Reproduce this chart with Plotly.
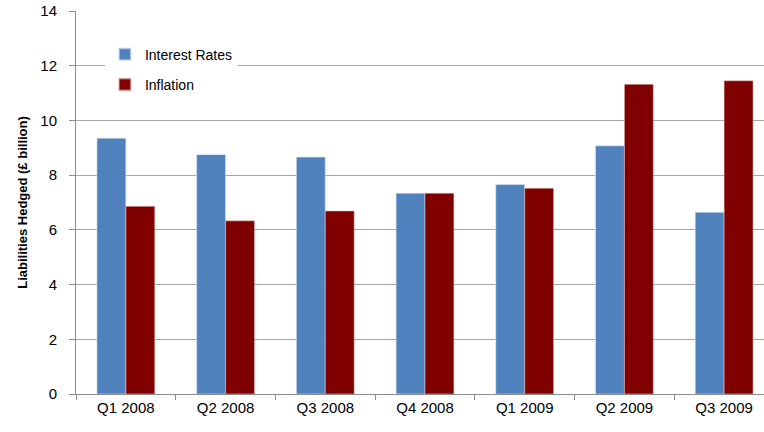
import plotly.graph_objects as go

categories = ["Q1 2008", "Q2 2008", "Q3 2008", "Q4 2008", "Q1 2009", "Q2 2009", "Q3 2009"]
interest_rates = [9.35, 8.75, 8.66, 7.34, 7.66, 9.07, 6.64]
inflation = [6.86, 6.33, 6.69, 7.34, 7.52, 11.32, 11.45]
y_ticks = [0, 2, 4, 6, 8, 10, 12, 14]

font_family = "Liberation Sans, Arial, sans-serif"

fig = go.Figure()
fig.add_trace(go.Bar(name="Interest Rates", x=categories, y=interest_rates, legendgroup="a",
                     marker=dict(color="#4F81BD", line=dict(color="rgba(220,230,245,0.6)", width=1))))
fig.add_trace(go.Bar(name="Inflation", x=categories, y=inflation, legendgroup="b",
                     marker=dict(color="#800000", line=dict(color="rgba(240,200,200,0.5)", width=1))))

fig.update_layout(
    width=764, height=432,
    margin=dict(l=76, r=0, t=11, b=38),
    paper_bgcolor="white", plot_bgcolor="white",
    barmode="group", bargap=0.42, bargroupgap=0,
    font=dict(family=font_family, size=15, color="#000000"),
    showlegend=True,
    legend=dict(x=0.042, y=0.928, xanchor="left", yanchor="top",
                bgcolor="white", font=dict(size=14),
                tracegroupgap=9, itemsizing="constant"),
    xaxis=dict(range=[-0.5, 6.4], showline=True, linecolor="#8c8c8c", linewidth=1,
               ticks="outside", tickson="boundaries", ticklen=5, tickcolor="#8c8c8c",
               showgrid=False, tickfont=dict(size=15)),
    yaxis=dict(range=[0, 14], tickvals=y_ticks, showline=True, linecolor="#8c8c8c", linewidth=1,
               ticks="outside", ticklen=6, tickcolor="#8c8c8c", ticklabelstandoff=9,
               showgrid=True, gridcolor="#a6a6a6", gridwidth=1,
               zeroline=False, tickfont=dict(size=15),
               title=dict(text="<b>Liabilities Hedged (£ billion)</b>", font=dict(size=13), standoff=9)),
)

fig.write_html("out.html")
